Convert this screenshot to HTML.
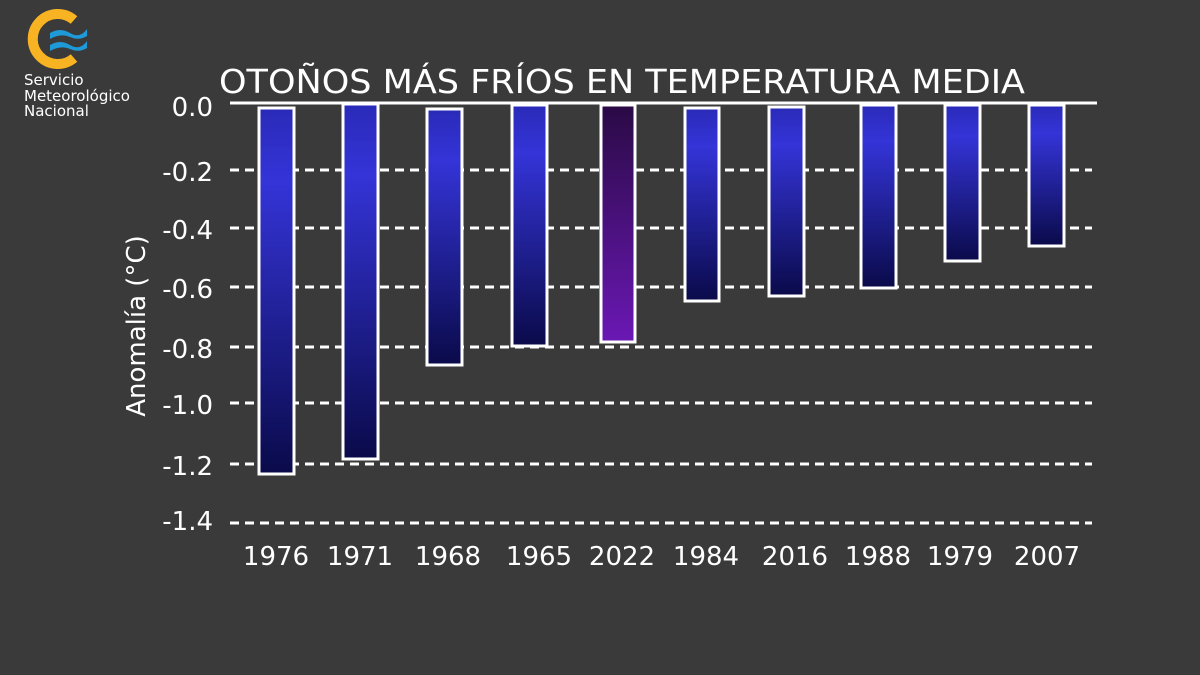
<!DOCTYPE html>
<html><head><meta charset="utf-8"><style>
body{margin:0;width:1200px;height:675px;background:#3a3a3a;overflow:hidden}
svg{display:block}
text{font-family:"DejaVu Sans","Liberation Sans",sans-serif;fill:#fff}
</style></head><body>
<svg width="1200" height="675" viewBox="0 0 1200 675">
<defs>
<linearGradient id="b" x1="0" y1="0" x2="0" y2="1">
<stop offset="0" stop-color="#2a2ab8"/><stop offset="0.2" stop-color="#3434d8"/><stop offset="1" stop-color="#0a0a4a"/></linearGradient>
<linearGradient id="p" x1="0" y1="0" x2="0" y2="1">
<stop offset="0" stop-color="#2a0a45"/><stop offset="1" stop-color="#6a18b4"/></linearGradient>
</defs>
<path d="M74 20 A25 25 0 1 0 74 58" stroke="#f8b323" stroke-width="10" fill="none"/>
<path d="M50 33 q10 -6 20 0 t17 -4 v7 q-8 5 -17 1 t-20 2z M50 45 q10 -6 20 0 t17 -4 v7 q-8 5 -17 1 t-20 2z" fill="#1f9ad8"/>
<text x="24" y="85" font-size="15">Servicio</text>
<text x="24" y="101" font-size="15">Meteorológico</text>
<text x="24" y="116" font-size="15">Nacional</text>
<text x="219" y="93" font-size="33" textLength="806" lengthAdjust="spacingAndGlyphs">OTOÑOS MÁS FRÍOS EN TEMPERATURA MEDIA</text>
<g stroke="#fff" stroke-width="3" stroke-dasharray="9 6">
<line x1="230" x2="1092" y1="170" y2="170"/><line x1="230" x2="1092" y1="228" y2="228"/>
<line x1="230" x2="1092" y1="287" y2="287"/><line x1="230" x2="1092" y1="347" y2="347"/>
<line x1="230" x2="1092" y1="403" y2="403"/><line x1="230" x2="1092" y1="464" y2="464"/>
<line x1="230" x2="1092" y1="523" y2="523"/>
</g>
<line x1="230" x2="1097" y1="103" y2="103" stroke="#fff" stroke-width="3"/>
<g font-size="26" text-anchor="end">
<text x="213" y="116">0.0</text><text x="213" y="181">-0.2</text><text x="213" y="239">-0.4</text>
<text x="213" y="298">-0.6</text><text x="213" y="358">-0.8</text><text x="213" y="414">-1.0</text>
<text x="213" y="475">-1.2</text><text x="213" y="530">-1.4</text>
</g>
<text transform="translate(145,326) rotate(-90)" font-size="26" text-anchor="middle">Anomalía (°C)</text>
<g stroke="#fff" stroke-width="3">
<rect x="259" y="108" width="35" height="366" fill="url(#b)"/>
<rect x="343" y="104" width="35" height="355" fill="url(#b)"/>
<rect x="427" y="109" width="35" height="256" fill="url(#b)"/>
<rect x="512" y="105" width="35" height="241" fill="url(#b)"/>
<rect x="601" y="105" width="34" height="237" fill="url(#p)"/>
<rect x="685" y="108" width="34" height="193" fill="url(#b)"/>
<rect x="769" y="107" width="35" height="189" fill="url(#b)"/>
<rect x="861" y="105" width="35" height="183" fill="url(#b)"/>
<rect x="945" y="105" width="35" height="156" fill="url(#b)"/>
<rect x="1029" y="105" width="35" height="141" fill="url(#b)"/>
</g>
<g font-size="26" text-anchor="middle">
<text x="276" y="565">1976</text><text x="360" y="565">1971</text><text x="448" y="565">1968</text>
<text x="539" y="565">1965</text><text x="622" y="565">2022</text><text x="706" y="565">1984</text>
<text x="795" y="565">2016</text><text x="878" y="565">1988</text><text x="960" y="565">1979</text>
<text x="1047" y="565">2007</text>
</g>
</svg>
</body></html>
